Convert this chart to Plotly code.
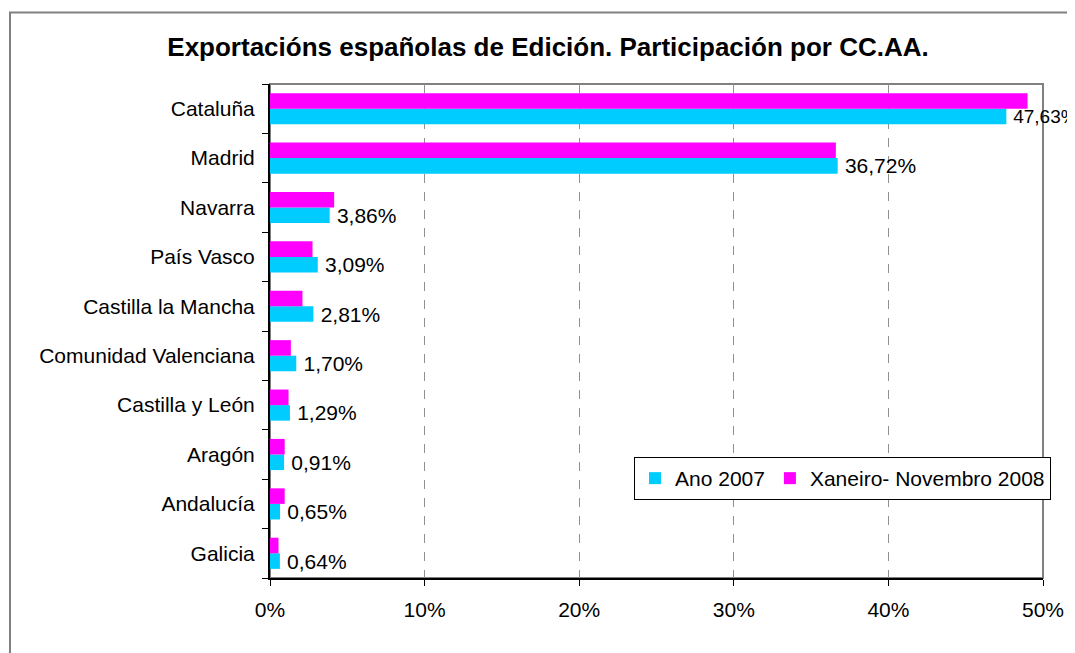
import plotly.graph_objects as go

categories = ["Cataluña", "Madrid", "Navarra", "País Vasco", "Castilla la Mancha",
              "Comunidad Valenciana", "Castilla y León", "Aragón", "Andalucía", "Galicia"]
ano_2007 = [47.63, 36.72, 3.86, 3.09, 2.81, 1.70, 1.29, 0.91, 0.65, 0.64]
xan_nov_2008 = [49.0, 36.6, 4.15, 2.75, 2.1, 1.35, 1.2, 0.95, 0.95, 0.55]
series_names = ["Ano 2007", "Xaneiro- Novembro 2008"]
x_ticks = [0, 10, 20, 30, 40, 50]
x_tick_labels = ["0%", "10%", "20%", "30%", "40%", "50%"]
title_text = "Exportacións españolas de Edición. Participación por CC.AA."

FONT = "Liberation Sans, Arial, sans-serif"
CYAN = "#00CCFF"
MAGENTA = "#FF00FF"
FS = 21

# reverse so Cataluña is on top; first trace lands at the bottom of each group
cats_r = categories[::-1]
a07_r = ano_2007[::-1]
x08_r = xan_nov_2008[::-1]
labels_r = ["\u2009" + f"{v:.2f}%".replace(".", ",") for v in a07_r]
# the label of the longest bar sits at the right edge; slightly smaller so it stays visible
label_sizes = [FS] * (len(cats_r) - 1) + [19]

fig = go.Figure()
fig.add_trace(go.Bar(
    y=cats_r, x=a07_r, orientation="h", name=series_names[0],
    marker=dict(color=CYAN, line=dict(width=0)),
    text=labels_r, textposition="outside", constraintext="none",
    textfont=dict(family=FONT, size=label_sizes, color="black"), cliponaxis=False,
    hoverinfo="x+y",
))
fig.add_trace(go.Bar(
    y=cats_r, x=x08_r, orientation="h", name=series_names[1],
    marker=dict(color=MAGENTA, line=dict(width=0)),
    hoverinfo="x+y",
))

# page body has an 8px margin: figure origin is at screen (8, 8)
OFF = 8
W, H = 1075 - OFF, 653 - OFF
L = 270 - OFF
T = 84 - OFF
R = W - (1043 - OFF)
B = H - (578 - OFF)
pw, ph = W - L - R, H - T - B

def px_x(sx):
    return (sx - OFF - L) / pw

def px_y(sy):
    return (H - B - (sy - OFF)) / ph

shapes = [
    # outer chart border (right/bottom edges fall outside the view, as in the original)
    dict(type="rect", xref="paper", yref="paper",
         x0=px_x(10), x1=px_x(1095), y0=px_y(690), y1=px_y(12.5),
         line=dict(color="#808080", width=2), fillcolor="rgba(0,0,0,0)", layer="below"),
    # plot area border (gray top/right)
    dict(type="rect", xref="paper", yref="paper", x0=0, x1=1, y0=0, y1=1,
         line=dict(color="#808080", width=2), fillcolor="rgba(0,0,0,0)", layer="below"),
]

fig.update_layout(
    width=W, height=H,
    margin=dict(l=L, r=R, t=T, b=B, pad=0),
    paper_bgcolor="white", plot_bgcolor="white",
    font=dict(family=FONT, size=FS, color="black"),
    title=dict(text=f"<b>{title_text}</b>", x=(548 - OFF) / W, xanchor="center", xref="container",
               y=1 - (47 - OFF) / H, yanchor="middle", yref="container",
               font=dict(family=FONT, size=26, color="black")),
    barmode="group", bargap=0.37, bargroupgap=0,
    showlegend=True,
    legend=dict(orientation="h", x=px_x(634), y=px_y(457),
                xanchor="left", yanchor="top", bgcolor="white",
                bordercolor="black", borderwidth=1,
                font=dict(family=FONT, size=FS, color="black"),
                itemwidth=30, traceorder="normal", tracegroupgap=0),
    shapes=shapes,
    xaxis=dict(range=[0, 50], tickvals=x_ticks, ticktext=x_tick_labels,
               showgrid=True, gridcolor="#909090", griddash="dash", gridwidth=1,
               zeroline=False, showline=True, linecolor="black", linewidth=2,
               ticks="outside", ticklen=6, tickcolor="black", tickwidth=1,
               ticklabelstandoff=6, tickfont=dict(family=FONT, size=FS, color="black"),
               fixedrange=True),
    yaxis=dict(type="category", categoryorder="array", categoryarray=cats_r,
               showgrid=False, zeroline=False, showline=True, linecolor="black", linewidth=2,
               ticks="outside", ticklen=6, tickcolor="black", tickwidth=1,
               tickson="boundaries", ticklabelstandoff=9,
               tickfont=dict(family=FONT, size=FS, color="black"), fixedrange=True),
)

fig.write_html("out.html")
